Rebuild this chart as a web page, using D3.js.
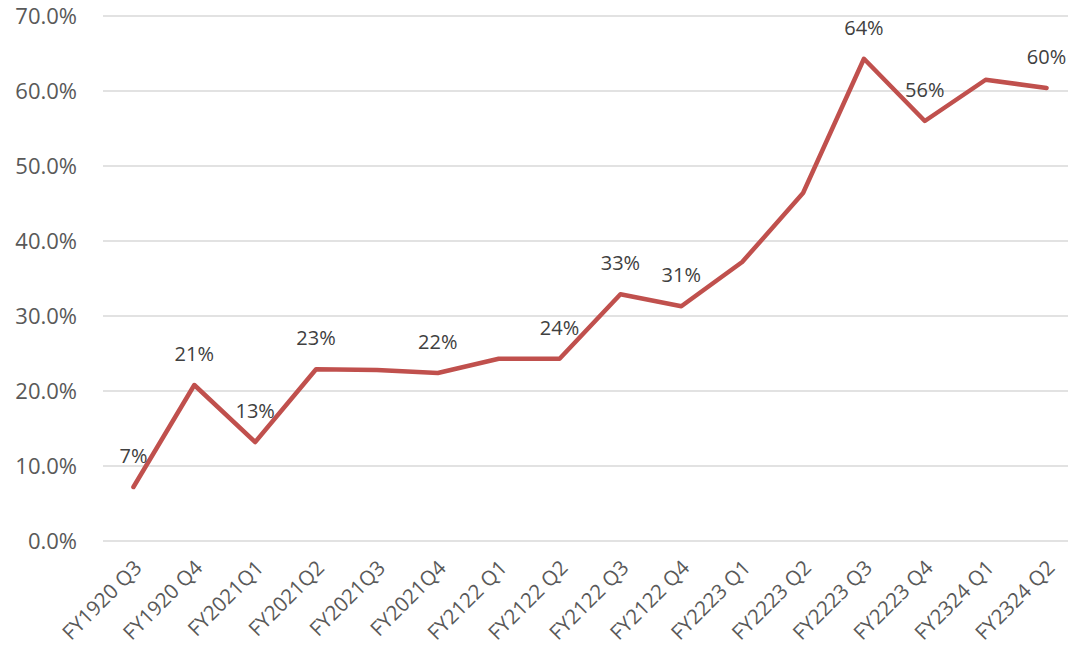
<!DOCTYPE html>
<html>
<head>
<meta charset="utf-8">
<script src="https://cdn.jsdelivr.net/npm/d3@7"></script>
<style>
  body { margin: 0; background: #fff; }
  text { font-family: "Open Sans", Lato, sans-serif; }
</style>
</head>
<body>
<div id="canvas"></div>
<script>
const categories = ["FY1920 Q3", "FY1920 Q4", "FY2021Q1", "FY2021Q2", "FY2021Q3", "FY2021Q4",
  "FY2122 Q1", "FY2122 Q2", "FY2122 Q3", "FY2122 Q4", "FY2223 Q1", "FY2223 Q2",
  "FY2223 Q3", "FY2223 Q4", "FY2324 Q1", "FY2324 Q2"];
const values = [7.2, 20.8, 13.2, 22.9, 22.8, 22.4, 24.3, 24.3, 32.9, 31.3, 37.2, 46.4, 64.3, 56.0, 61.5, 60.4];
// which points carry a data label
const showLabel = [true, true, true, true, false, true, false, true, true, true, false, false, true, true, false, true];
const yTicks = [0, 10, 20, 30, 40, 50, 60, 70];

const width = 1068;
const height = 651;
const margin = { top: 16, left: 103, bottom: 110, right: 0 };
const iwidth = width - margin.left - margin.right;
const iheight = height - margin.top - margin.bottom;

const svg = d3.select("#canvas").append("svg")
  .attr("width", width)
  .attr("height", height);

const g = svg.append("g").attr("transform", `translate(${margin.left},${margin.top})`);

// category band is ~61px, last point sits close to the right edge
const x = d3.scalePoint()
  .domain(categories)
  .range([0, 974])
  .padding(0.5);

const y = d3.scaleLinear()
  .domain([0, 70])
  .range([iheight, 0]);

// gridlines
g.selectAll(".grid")
  .data(yTicks)
  .enter().append("line")
  .attr("class", "grid")
  .attr("x1", 0)
  .attr("x2", iwidth)
  .attr("y1", d => y(d))
  .attr("y2", d => y(d))
  .attr("stroke", "#d9d9d9")
  .attr("stroke-width", 1.3);

// y axis labels
const yAxis = g.append("g")
  .call(d3.axisLeft(y).tickValues(yTicks).tickSize(0).tickPadding(26).tickFormat(d => d.toFixed(1) + "%"));
yAxis.select(".domain").remove();
yAxis.selectAll("text")
  .attr("fill", "#595959")
  .style("font-size", "22px");

// x axis labels
const xAxis = g.append("g")
  .attr("transform", `translate(0,${iheight})`)
  .call(d3.axisBottom(x).tickSize(0));
xAxis.select(".domain").remove();
xAxis.selectAll("text")
  .attr("fill", "#595959")
  .style("font-size", "20.5px")
  .attr("text-anchor", "end")
  .attr("y", 0)
  .attr("dy", "0.35em")
  .attr("transform", "translate(4,23) rotate(-45)");

// line
const line = d3.line()
  .x((d, i) => x(categories[i]))
  .y(d => y(d));

g.append("path")
  .datum(values)
  .attr("fill", "none")
  .attr("stroke", "#c0504d")
  .attr("stroke-width", 4.5)
  .attr("stroke-linejoin", "round")
  .attr("stroke-linecap", "round")
  .attr("d", line);

// data labels
g.selectAll(".lbl")
  .data(values.map((v, i) => ({ v, c: categories[i], show: showLabel[i] })).filter(d => d.show))
  .enter().append("text")
  .attr("class", "lbl")
  .attr("x", d => x(d.c))
  .attr("y", d => y(d.v) - 31)
  .attr("dy", "0.35em")
  .attr("text-anchor", "middle")
  .attr("fill", "#404040")
  .style("font-size", "20px")
  .text(d => Math.round(d.v) + "%");
</script>
</body>
</html>
